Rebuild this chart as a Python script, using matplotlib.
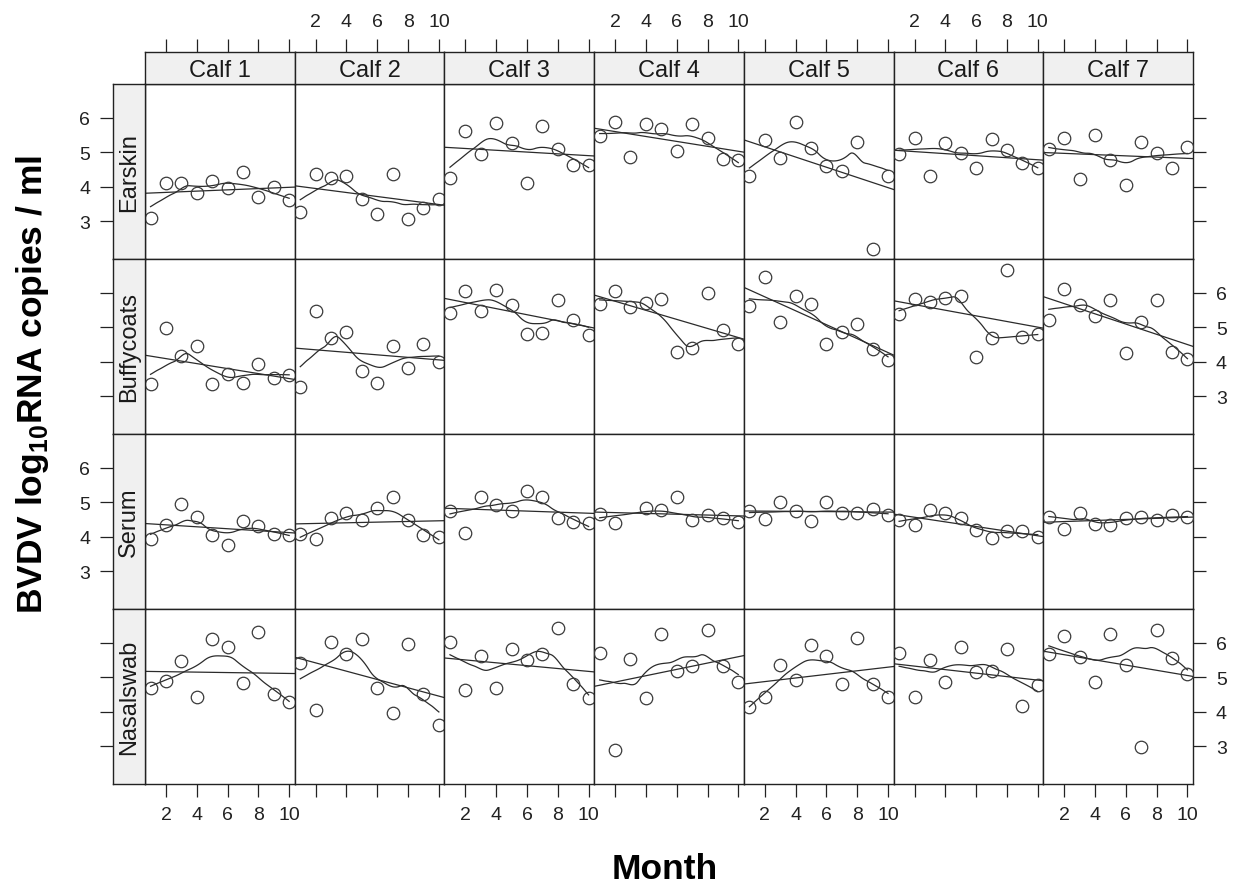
import numpy as np
import matplotlib
matplotlib.use("Agg")
import matplotlib.pyplot as plt

plt.rcParams['font.family'] = ['Liberation Sans', 'DejaVu Sans']
plt.rcParams['mathtext.fontset'] = 'custom'
plt.rcParams['mathtext.rm'] = 'Liberation Sans:bold'
plt.rcParams['mathtext.bf'] = 'Liberation Sans:bold'

# ---------------- data ----------------
months = [1, 2, 3, 4, 5, 6, 7, 8, 9, 10]
calves = ["Calf 1", "Calf 2", "Calf 3", "Calf 4", "Calf 5", "Calf 6", "Calf 7"]
samples = ["Earskin", "Buffycoats", "Serum", "Nasalswab"]
nan = float("nan")

earskin = [
    [3.10, 4.12, 4.12, 3.82, 4.17, 3.95, 4.42, 3.69, 3.98, 3.61],
    [3.25, 4.36, 4.24, 4.31, 3.64, 3.20, 4.36, 3.05, 3.38, 3.64],
    [4.25, 5.63, 4.94, 5.85, 5.27, 4.12, 5.77, 5.08, 4.64, 4.62],
    [5.46, 5.89, 4.85, 5.81, 5.67, 5.03, 5.81, 5.42, 4.79, 4.76],
    [4.32, 5.34, 4.84, 5.89, 5.11, 4.59, 4.46, 5.31, 2.20, 4.32],
    [4.94, 5.42, 4.30, 5.26, 4.99, 4.54, 5.38, 5.07, 4.70, 4.54],
    [5.08, 5.42, 4.23, 5.51, 4.76, 4.04, 5.30, 4.99, 4.54, 5.16],
]
buffycoats = [
    [3.36, 4.97, 4.15, 4.45, 3.35, 3.63, 3.39, 3.92, 3.52, 3.61],
    [3.26, 5.47, 4.68, 4.87, 3.73, 3.38, 4.45, 3.82, 4.50, 4.00],
    [5.41, 6.05, 5.46, 6.09, 5.65, 4.80, 4.84, 5.79, 5.21, 4.77],
    [5.67, 6.05, 5.58, 5.69, 5.83, 4.28, 4.41, 6.00, 4.92, 4.50],
    [5.63, 6.47, 5.14, 5.92, 5.68, 4.50, 4.87, 5.10, 4.37, 4.06],
    [5.37, 5.83, 5.73, 5.86, 5.91, 4.13, 4.68, 6.66, 4.73, 4.80],
    [5.21, 6.12, 5.65, 5.33, 5.80, 4.24, 5.16, 5.79, 4.28, 4.07],
]
serum = [
    [3.92, 4.35, 4.94, 4.56, 4.05, 3.75, 4.45, 4.31, 4.07, 4.04],
    [4.07, 3.92, 4.55, 4.68, 4.47, 4.82, 5.14, 4.47, 4.06, 3.99],
    [4.75, 4.10, 5.14, 4.92, 4.75, 5.32, 5.14, 4.55, 4.43, 4.40],
    [4.66, 4.39, nan, 4.83, 4.76, 5.16, 4.47, 4.64, 4.55, 4.42],
    [4.75, 4.52, 5.02, 4.75, 4.45, 5.01, 4.70, 4.68, 4.79, 4.62],
    [4.48, 4.33, 4.78, 4.68, 4.53, 4.20, 3.95, 4.17, 4.17, 3.99],
    [4.57, 4.21, 4.69, 4.37, 4.33, 4.53, 4.57, 4.47, 4.62, 4.57],
]
nasalswab = [
    [4.69, 4.89, 5.46, 4.42, 6.11, 5.88, 4.82, 6.32, 4.50, 4.29],
    [5.40, 4.05, 6.01, 5.68, 6.10, 4.69, 3.95, 5.96, 4.50, 3.60],
    [6.01, 4.64, 5.62, 4.70, 5.81, 5.50, 5.67, 6.42, 4.80, 4.39],
    [5.70, 2.90, 5.54, 4.39, 6.24, 5.18, 5.32, 6.37, 5.32, 4.85],
    [4.13, 4.42, 5.36, 4.91, 5.93, 5.63, 4.81, 6.14, 4.81, 4.42],
    [5.70, 4.42, 5.51, 4.86, 5.88, 5.14, 5.18, 5.81, 4.16, 4.78],
    [5.68, 6.19, 5.58, 4.86, 6.24, 5.36, 2.98, 6.37, 5.55, 5.08],
]
x_ticks = [2, 4, 6, 8, 10]
y_ticks = [3, 4, 5, 6]
rows_data = [earskin, buffycoats, serum, nasalswab]


# ---------------- robust loess (lattice panel.loess defaults) ----------------
def loess_fit(x, y, x_eval, span=2 / 3, iterations=4):
    n = len(x)
    q = int(np.floor(n * span))
    rw = np.ones(n)

    def fit_at(x0):
        d = np.abs(x - x0)
        h = np.sort(d)[q - 1]
        u = np.clip(d / h, 0, 1)
        w = (1 - u ** 3) ** 3 * rw
        sw = w.sum()
        xm = (w * x).sum() / sw
        ym = (w * y).sum() / sw
        sxx = (w * (x - xm) ** 2).sum()
        b = (w * (x - xm) * (y - ym)).sum() / sxx if sxx > 0 else 0.0
        return ym + b * (x0 - xm), b

    # interpolation vertices (like loess' kd-tree surface)
    verts = np.unique(np.concatenate([[x.min(), x.max()], (x[1:] + x[:-1]) / 2]))

    def surface(xe):
        vals = np.array([fit_at(v) for v in verts])
        fv, dv = vals[:, 0], vals[:, 1]
        out = np.empty(len(xe))
        for i, x0 in enumerate(xe):
            k = np.clip(np.searchsorted(verts, x0) - 1, 0, len(verts) - 2)
            x1, x2 = verts[k], verts[k + 1]
            hh = x2 - x1
            t = (x0 - x1) / hh
            h00 = 2 * t ** 3 - 3 * t ** 2 + 1
            h10 = t ** 3 - 2 * t ** 2 + t
            h01 = -2 * t ** 3 + 3 * t ** 2
            h11 = t ** 3 - t ** 2
            out[i] = h00 * fv[k] + h10 * hh * dv[k] + h01 * fv[k + 1] + h11 * hh * dv[k + 1]
        return out

    for it in range(iterations - 1):
        fitted = surface(x)
        r = y - fitted
        s = np.median(np.abs(r))
        if s == 0:
            break
        u = np.clip(r / (6 * s), -1, 1)
        rw = (1 - u ** 2) ** 2
    return surface(x_eval)


# ---------------- layout ----------------
W, H = 1236, 887
fig = plt.figure(figsize=(W / 100, H / 100), dpi=100)


def rect(x0, y0, x1, y1):
    return [x0 / W, 1 - y1 / H, (x1 - x0) / W, (y1 - y0) / H]


col_edges = np.linspace(145, 1193, 8)
row_edges = np.linspace(85, 785, 5)
strip_top = 53
strip_left = 113
xlim = (0.64, 10.36)
ylim = (1.90, 6.98)
line_col = "#2b2b2b"
pt_col = "#3a3a3a"
strip_bg = "#f0f0f0"
tick_len = 9.5
tick_fs = 14
strip_fs = 17

mx = np.array(months, dtype=float)
xs_eval = np.linspace(1, 10, 80)

for r, data in enumerate(rows_data):
    for c in range(7):
        ax = fig.add_axes(rect(col_edges[c], row_edges[r], col_edges[c + 1], row_edges[r + 1]))
        ax.set_xlim(*xlim)
        ax.set_ylim(*ylim)
        ax.set_xticks([])
        ax.set_yticks([])
        for s in ax.spines.values():
            s.set_linewidth(1.0)
            s.set_color("#222222")
        y = np.array(data[c], dtype=float)
        ok = ~np.isnan(y)
        xv, yv = mx[ok], y[ok]
        ax.plot(xv, yv, linestyle="none", marker="o", markersize=9,
                markerfacecolor="none", markeredgecolor=pt_col, markeredgewidth=0.9, zorder=3)
        slope, icpt = np.polyfit(xv, yv, 1)
        ax.axline((0, icpt), slope=slope, color=line_col, lw=0.9, zorder=2)
        ax.plot(xs_eval, loess_fit(xv, yv, xs_eval), color=line_col, lw=0.9, zorder=2)

# top strips
for c, name in enumerate(calves):
    sax = fig.add_axes(rect(col_edges[c], strip_top, col_edges[c + 1], row_edges[0]))
    sax.set_facecolor(strip_bg)
    sax.set_xticks([])
    sax.set_yticks([])
    for s in sax.spines.values():
        s.set_linewidth(1.0)
        s.set_color("#222222")
    sax.text(0.5, 0.45, name, ha="center", va="center", fontsize=strip_fs,
             color="#1a1a1a", transform=sax.transAxes)

# left strips
for r, name in enumerate(samples):
    sax = fig.add_axes(rect(strip_left, row_edges[r], col_edges[0], row_edges[r + 1]))
    sax.set_facecolor(strip_bg)
    sax.set_xticks([])
    sax.set_yticks([])
    for s in sax.spines.values():
        s.set_linewidth(1.0)
        s.set_color("#222222")
    sax.text(0.5, 0.5, name, ha="center", va="center", rotation=90,
             fontsize=strip_fs, color="#1a1a1a", transform=sax.transAxes)

# y tick axes (left of strips, right of panels)
for r in range(4):
    tax = fig.add_axes(rect(strip_left, row_edges[r], col_edges[-1], row_edges[r + 1]))
    tax.patch.set_visible(False)
    for s in tax.spines.values():
        s.set_visible(False)
    tax.set_xticks([])
    tax.set_ylim(*ylim)
    tax.set_yticks(y_ticks)
    left_lab = (r % 2 == 0)
    tax.tick_params(axis="y", which="both", direction="out", length=tick_len, width=0.9,
                    left=True, right=True, labelleft=left_lab, labelright=not left_lab,
                    labelsize=tick_fs, pad=7, colors="#222222")
    tax.set_zorder(-1)

# x tick axes (above strips, below panels)
for c in range(7):
    tax = fig.add_axes(rect(col_edges[c], strip_top, col_edges[c + 1], row_edges[-1]))
    tax.patch.set_visible(False)
    for s in tax.spines.values():
        s.set_visible(False)
    tax.set_yticks([])
    tax.set_xlim(*xlim)
    tax.set_xticks(x_ticks)
    bottom_lab = (c % 2 == 0)
    tax.tick_params(axis="x", which="both", direction="out", length=tick_len, width=0.9,
                    top=True, bottom=True, labeltop=not bottom_lab, labelbottom=bottom_lab,
                    labelsize=tick_fs, pad=6, colors="#222222")
    tax.set_zorder(-1)

fig.text(33 / W, 1 - 385 / H, r"BVDV log$_{10}$RNA copies / ml", rotation=90,
         ha="center", va="center", fontsize=25.5, fontweight="bold")
fig.text(665 / W, 1 - 870 / H, "Month", ha="center", va="center",
         fontsize=25.5, fontweight="bold")

fig.savefig("out.png", dpi=100)
